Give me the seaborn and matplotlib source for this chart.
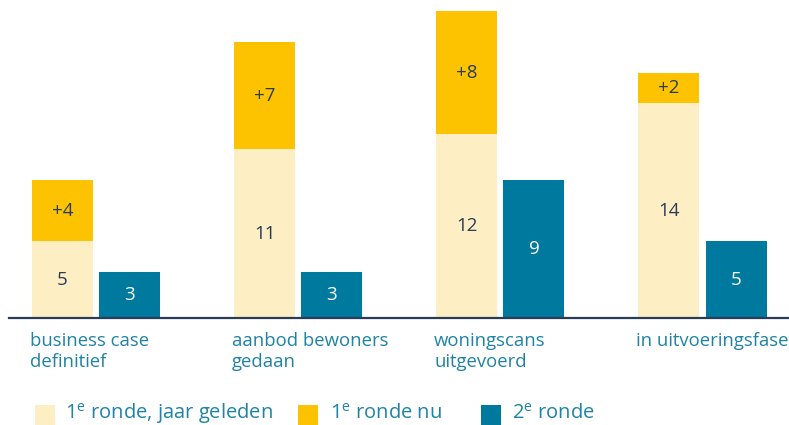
import matplotlib
matplotlib.use("Agg")
import matplotlib.pyplot as plt
import seaborn as sns
import pandas as pd
from matplotlib.patches import Rectangle

# ---- data ----
categories = ["business case\ndefinitief", "aanbod bewoners\ngedaan",
              "woningscans\nuitgevoerd", "in uitvoeringsfase"]
ronde1_jaar = [5, 11, 12, 14]
ronde1_extra = [4, 7, 8, 2]
ronde2 = [3, 3, 9, 5]
legend_labels = ["1$^{\\mathrm{e}}$ ronde, jaar geleden", "1$^{\\mathrm{e}}$ ronde nu", "2$^{\\mathrm{e}}$ ronde"]

# ---- style ----
sns.set_theme(style="white")
plt.rcParams["font.family"] = ["Open Sans", "DejaVu Sans"]
plt.rcParams["mathtext.fontset"] = "custom"
plt.rcParams["mathtext.rm"] = "Open Sans"

C_LIGHT = "#FDEFC3"
C_YEL = "#FDC300"
C_TEAL = "#00799E"
C_NAVY = "#2A3D57"
C_TXT = "#1E83A6"

W, H = 789, 425
fig = plt.figure(figsize=(W / 100, H / 100), dpi=100)

# axes placement in pixels
px_left, px_right = 9, 789
px_base = 318
ax = fig.add_axes([px_left / W, (H - px_base) / H, (px_right - px_left) / W, px_base / H])

totals = [a + b for a, b in zip(ronde1_jaar, ronde1_extra)]
df_top = pd.DataFrame({
    "cat": categories * 2,
    "serie": ["r1"] * 4 + ["r2"] * 4,
    "val": totals + ronde2,
})
df_base = pd.DataFrame({
    "cat": categories * 2,
    "serie": ["r1"] * 4 + ["r2"] * 4,
    "val": ronde1_jaar + ronde2,
})

common = dict(x="cat", y="val", hue="serie", order=categories, hue_order=["r1", "r2"],
              dodge=True, width=0.664, gap=0.09, legend=False, ax=ax, errorbar=None,
              saturation=1, linewidth=0)
sns.barplot(data=df_top, palette={"r1": C_YEL, "r2": C_TEAL}, **common)
sns.barplot(data=df_base, palette={"r1": C_LIGHT, "r2": C_TEAL}, **common)

# value labels
off = 0.166
for i in range(len(categories)):
    b = ronde1_jaar[i]
    e = ronde1_extra[i]
    t = ronde2[i]
    ax.text(i - off, b / 2, f"{b}", ha="center", va="center", fontsize=13.5, color=C_NAVY)
    ax.text(i - off, b + e / 2, f"+{e}", ha="center", va="center", fontsize=13.5, color=C_NAVY)
    ax.text(i + off, t / 2, f"{t}", ha="center", va="center", fontsize=13.5, color="white")

# scale
ppu = 15.33
grp = 202.17
c0 = 96
ax.set_xlim(-(c0 - px_left) / grp, (px_right - px_left) / grp - (c0 - px_left) / grp)
ax.set_ylim(0, px_base / ppu)

for s in ["top", "right", "left"]:
    ax.spines[s].set_visible(False)
ax.spines["bottom"].set_color(C_NAVY)
ax.spines["bottom"].set_linewidth(1.6)
ax.set_xticks([])
ax.set_yticks([])
ax.set_xlabel("")
ax.set_ylabel("")

# category labels, left aligned at bar left edges
bar_w = 0.302
for i, c in enumerate(categories):
    ax.text(i - off - bar_w / 2 - 2 / grp, -14 / ppu, c, ha="left", va="top", fontsize=13.3,
            color=C_TXT, linespacing=1.2, clip_on=False)

# legend (manual)
leg_items = [(35, 65, C_LIGHT), (298, 330, C_YEL), (481, 512, C_TEAL)]
for (sx, tx, col), lab in zip(leg_items, legend_labels):
    fig.patches.append(Rectangle((sx / W, (H - 425) / H), 20 / W, 20 / H,
                                 transform=fig.transFigure, color=col, lw=0))
    fig.text(tx / W, (H - 419) / H, lab, ha="left", va="baseline", fontsize=14.5, color=C_TXT)

fig.savefig("out.png", dpi=100)
